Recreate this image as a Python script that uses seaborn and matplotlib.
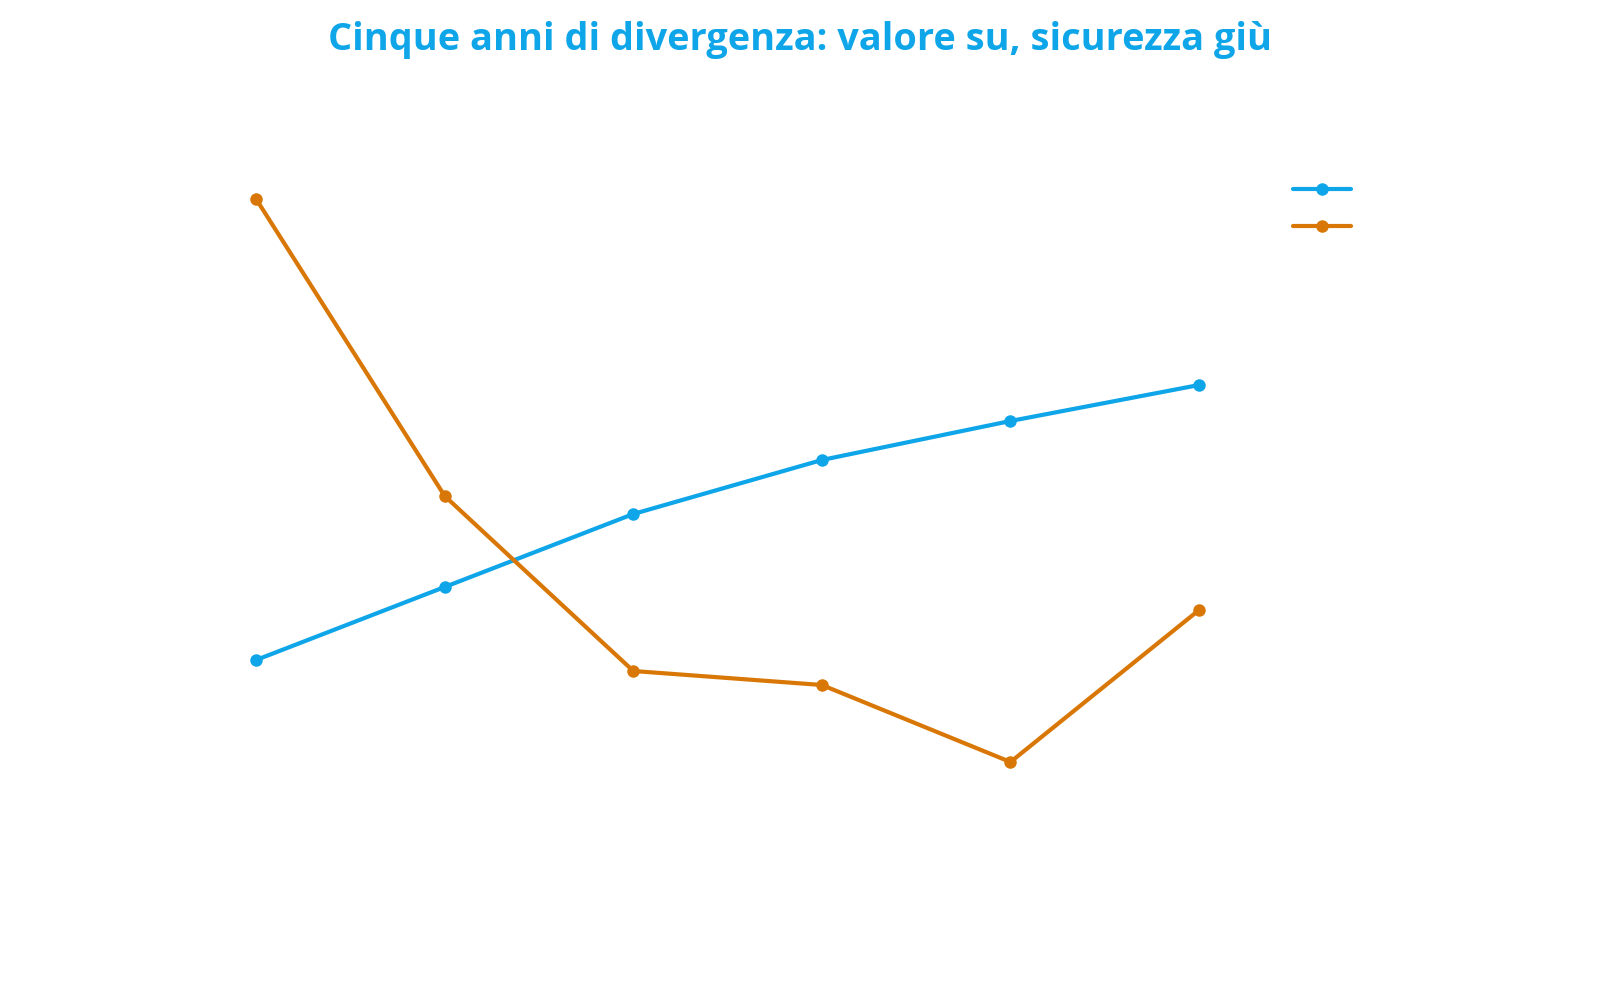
import pandas as pd
import matplotlib
matplotlib.use("Agg")
import matplotlib.pyplot as plt
import seaborn as sns

# Data (index values, no axis shown)
years = [2019, 2020, 2021, 2022, 2023, 2024]
valore = [34.0, 41.3, 48.6, 54.0, 57.9, 61.5]
sicurezza = [80.1, 50.4, 32.9, 31.5, 23.8, 39.0]
series_names = ["valore", "sicurezza"]
colors = ["#0ea5e9", "#d97706"]

df = pd.DataFrame({
    "anno": years * 2,
    "indice": valore + sicurezza,
    "serie": [series_names[0]] * len(years) + [series_names[1]] * len(years),
})

sns.set_style("white")
plt.rcParams['font.family'] = ['Open Sans', 'DejaVu Sans']

fig = plt.figure(figsize=(16, 10), dpi=100)
ax = fig.add_axes([0, 0, 1, 1])

sns.lineplot(data=df, x="anno", y="indice", hue="serie",
             palette=dict(zip(series_names, colors)),
             marker="o", markersize=9, markeredgewidth=0,
             linewidth=3, ax=ax, legend=False)

ax.set_xlim(2017.642, 2026.126)
ax.set_ylim(0, 100)
ax.axis("off")

# legend with handles only
handles = [plt.Line2D([], [], color=c, linewidth=3, marker="o",
                      markersize=9, markeredgewidth=0) for c in colors]
fig.legend(handles, [" ", " "], loc="upper left",
           bbox_to_anchor=(1275 / 1600, 1 - 164 / 1000),
           frameon=False, fontsize=14, handlelength=3.0,
           labelspacing=1.0, handletextpad=0.3)

fig.text(0.5, 1 - 40 / 1000, "Cinque anni di divergenza: valore su, sicurezza giù",
         ha="center", va="center", fontsize=27.3, fontweight="bold",
         color="#0ea5e9")

fig.savefig("out.png", dpi=100)
